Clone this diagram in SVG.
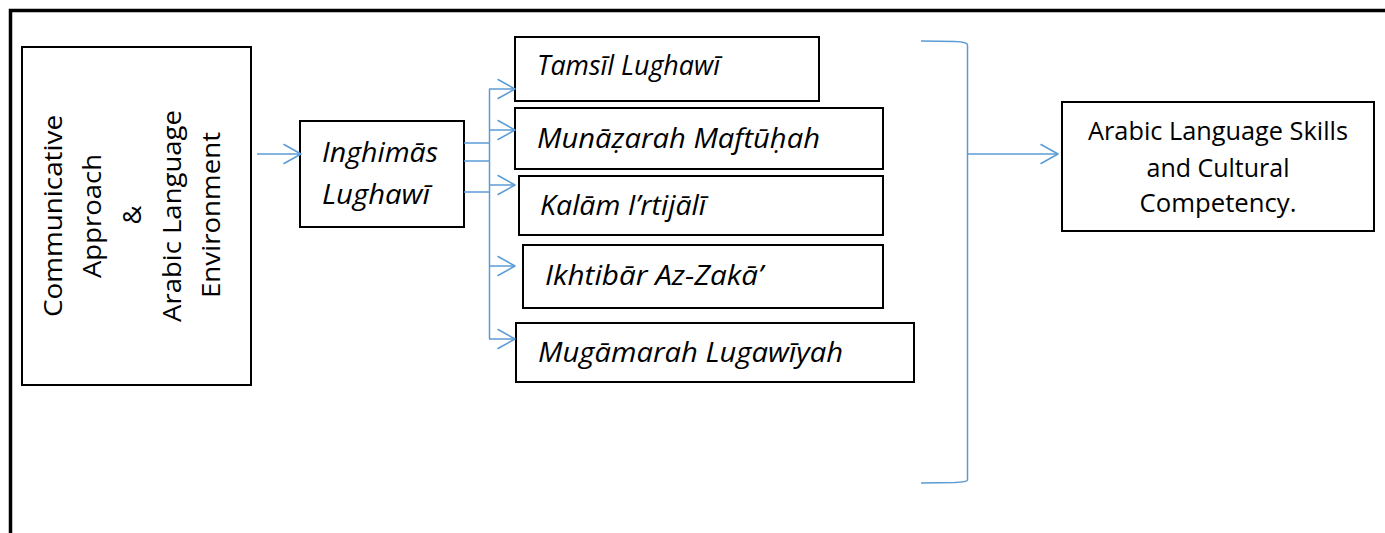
<svg xmlns="http://www.w3.org/2000/svg" width="1385" height="533" viewBox="0 0 1385 533">
  <style>
    .box { fill: #ffffff; stroke: #000000; stroke-width: 2; }
    .txt { font-family: "Open Sans", "Noto Sans", "Liberation Sans", sans-serif; font-size: 26px; fill: #000000; }
    .it { font-style: italic; font-size: 26.5px; }
    .link { fill: none; stroke: #5B9BD5; stroke-width: 1.5; }
    .head { fill: none; stroke: #5B9BD5; stroke-width: 1.5; stroke-linecap: round; stroke-linejoin: round; }
  </style>
  <defs>
    <marker id="open-arrow" viewBox="0 0 20 22" refX="19" refY="11" markerWidth="20" markerHeight="22" markerUnits="userSpaceOnUse" orient="auto">
      <path d="M2,1.5 L19,11 L2,20.5" class="head"/>
    </marker>
  </defs>

  <rect width="1385" height="533" fill="#ffffff"/>

  <!-- outer frame: top and left edges -->
  <path d="M10.5,533 L10.5,10.5 L1385,10.5" fill="none" stroke="#000000" stroke-width="3.5"/>

  <!-- source node -->
  <g id="node-approach">
    <rect class="box" x="22" y="47" width="229" height="338"/>
    <g class="txt" text-anchor="middle" transform="rotate(-90)">
      <text x="-216" y="62" textLength="202" lengthAdjust="spacingAndGlyphs">Communicative</text>
      <text x="-216" y="101" textLength="124" lengthAdjust="spacingAndGlyphs">Approach</text>
      <text x="-215" y="141">&amp;</text>
      <text x="-216" y="181" textLength="212" lengthAdjust="spacingAndGlyphs">Arabic Language</text>
      <text x="-215" y="220" textLength="166" lengthAdjust="spacingAndGlyphs">Environment</text>
    </g>
  </g>

  <!-- immersion node -->
  <g id="node-inghimas">
    <rect class="box" x="300" y="121" width="164" height="106"/>
    <text class="txt it" x="322" y="162" textLength="116" lengthAdjust="spacingAndGlyphs">Inghimās</text>
    <text class="txt it" x="322" y="204" textLength="108" lengthAdjust="spacingAndGlyphs">Lughawī</text>
  </g>

  <!-- activity nodes -->
  <g id="node-tamsil">
    <rect class="box" x="515" y="37" width="304" height="64"/>
    <text class="txt it" x="537" y="75" textLength="183" lengthAdjust="spacingAndGlyphs">Tamsīl Lughawī</text>
  </g>
  <g id="node-munazarah">
    <rect class="box" x="515" y="108" width="368" height="61"/>
    <text class="txt it" x="537" y="148" textLength="283" lengthAdjust="spacingAndGlyphs">Munāẓarah Maftūḥah</text>
  </g>
  <g id="node-kalam">
    <rect class="box" x="519" y="176" width="364" height="59"/>
    <text class="txt it" x="540" y="215" textLength="166" lengthAdjust="spacingAndGlyphs">Kalām I’rtijālī</text>
  </g>
  <g id="node-ikhtibar">
    <rect class="box" x="523" y="245" width="360" height="63"/>
    <text class="txt it" x="545" y="285" textLength="218" lengthAdjust="spacingAndGlyphs">Ikhtibār Az-Zakā’</text>
  </g>
  <g id="node-mugamarah">
    <rect class="box" x="516" y="323" width="398" height="59"/>
    <text class="txt it" x="538" y="362" textLength="305" lengthAdjust="spacingAndGlyphs">Mugāmarah Lugawīyah</text>
  </g>

  <!-- outcome node -->
  <g id="node-outcome">
    <rect class="box" x="1062" y="102" width="312" height="129"/>
    <g class="txt" text-anchor="middle">
      <text x="1218" y="140" textLength="260" lengthAdjust="spacingAndGlyphs">Arabic Language Skills</text>
      <text x="1218" y="177" textLength="143" lengthAdjust="spacingAndGlyphs">and Cultural</text>
      <text x="1218" y="212" textLength="157" lengthAdjust="spacingAndGlyphs">Competency.</text>
    </g>
  </g>

  <!-- connectors -->
  <g id="connectors">
    <line class="link" x1="257" y1="154" x2="301" y2="154" marker-end="url(#open-arrow)"/>
    <!-- stubs from the immersion node to the trunk -->
    <line class="link" x1="464" y1="143" x2="490" y2="143"/>
    <line class="link" x1="464" y1="161" x2="490" y2="161"/>
    <line class="link" x1="464" y1="192" x2="490" y2="192"/>
    <!-- trunk -->
    <line class="link" x1="489.5" y1="89" x2="489.5" y2="339"/>
    <!-- branches -->
    <line class="link" x1="489" y1="89" x2="515" y2="89" marker-end="url(#open-arrow)"/>
    <line class="link" x1="489" y1="130" x2="515" y2="130" marker-end="url(#open-arrow)"/>
    <line class="link" x1="489" y1="185" x2="515" y2="185" marker-end="url(#open-arrow)"/>
    <line class="link" x1="489" y1="266" x2="515" y2="266" marker-end="url(#open-arrow)"/>
    <line class="link" x1="489" y1="339" x2="515" y2="339" marker-end="url(#open-arrow)"/>
    <!-- closing bracket -->
    <path class="link" d="M921,41 L955,41.5 Q967.5,42 967.5,45 L967.5,480 Q967.5,482 955,482.5 L921,483"/>
    <line class="link" x1="968" y1="154" x2="1058" y2="154" marker-end="url(#open-arrow)"/>
  </g>
</svg>
